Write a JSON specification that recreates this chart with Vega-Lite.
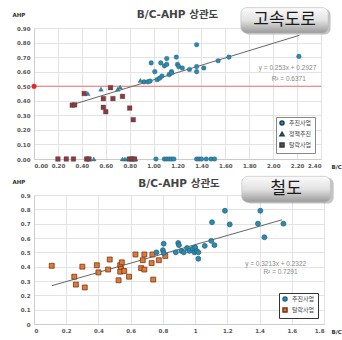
{
  "$schema": "https://vega.github.io/schema/vega-lite/v6.json",
  "background": "white",
  "padding": {"left": 11, "top": 6, "right": 0, "bottom": 2},
  "spacing": 5,
  "config": {
    "font": "DejaVu Sans",
    "view": {"stroke": "#e0e0e0"},
    "axis": {"labelFont": "DejaVu Sans", "labelFontSize": 5.5, "labelFontWeight": "bold", "labelColor": "#555", "ticks": false, "domainColor": "#cccccc", "gridColor": "#e3e3e3", "labelPadding": 4, "labelOverlap": false, "labelBound": false, "titleFont": "DejaVu Sans", "titleFontSize": 5.5, "titleFontWeight": "bold", "titleColor": "#333"},
    "title": {"font": "DejaVu Sans, Noto Sans CJK KR", "fontSize": 10.5, "fontWeight": "bold", "color": "#444", "offset": -13},
    "legend": {"labelFont": "Noto Sans CJK KR", "labelFontSize": 6, "labelColor": "#444", "symbolSize": 16, "rowPadding": 1, "padding": 3, "fillColor": "white", "orient": "bottom-right", "offset": 6, "title": null, "labelLimit": 60}
  },
  "datasets": {
    "hw": [
      {"bc": 0.98, "ahp": 0.66, "type": "추진사업"},
      {"bc": 1.01, "ahp": 0.60, "type": "추진사업"},
      {"bc": 1.06, "ahp": 0.66, "type": "추진사업"},
      {"bc": 1.09, "ahp": 0.64, "type": "추진사업"},
      {"bc": 1.11, "ahp": 0.69, "type": "추진사업"},
      {"bc": 1.11, "ahp": 0.65, "type": "추진사업"},
      {"bc": 1.03, "ahp": 0.545, "type": "추진사업"},
      {"bc": 1.05, "ahp": 0.555, "type": "추진사업"},
      {"bc": 1.07, "ahp": 0.57, "type": "추진사업"},
      {"bc": 1.13, "ahp": 0.58, "type": "추진사업"},
      {"bc": 1.15, "ahp": 0.60, "type": "추진사업"},
      {"bc": 1.15, "ahp": 0.59, "type": "추진사업"},
      {"bc": 1.19, "ahp": 0.70, "type": "추진사업"},
      {"bc": 1.20, "ahp": 0.65, "type": "추진사업"},
      {"bc": 1.21, "ahp": 0.635, "type": "추진사업"},
      {"bc": 1.24, "ahp": 0.625, "type": "추진사업"},
      {"bc": 1.30, "ahp": 0.615, "type": "추진사업"},
      {"bc": 1.36, "ahp": 0.785, "type": "추진사업"},
      {"bc": 1.36, "ahp": 0.635, "type": "추진사업"},
      {"bc": 1.36, "ahp": 0.60, "type": "추진사업"},
      {"bc": 1.42, "ahp": 0.625, "type": "추진사업"},
      {"bc": 1.54, "ahp": 0.675, "type": "추진사업"},
      {"bc": 1.63, "ahp": 0.70, "type": "추진사업"},
      {"bc": 2.215, "ahp": 0.705, "type": "추진사업"},
      {"bc": 0.92, "ahp": 0.53, "type": "추진사업"},
      {"bc": 0.95, "ahp": 0.53, "type": "추진사업"},
      {"bc": 0.97, "ahp": 0.535, "type": "추진사업"},
      {"bc": 1.02, "ahp": 0.0, "type": "추진사업"},
      {"bc": 1.09, "ahp": 0.0, "type": "추진사업"},
      {"bc": 1.11, "ahp": 0.0, "type": "추진사업"},
      {"bc": 1.13, "ahp": 0.0, "type": "추진사업"},
      {"bc": 1.15, "ahp": 0.0, "type": "추진사업"},
      {"bc": 1.17, "ahp": 0.0, "type": "추진사업"},
      {"bc": 1.36, "ahp": 0.0, "type": "추진사업"},
      {"bc": 1.38, "ahp": 0.0, "type": "추진사업"},
      {"bc": 1.40, "ahp": 0.0, "type": "추진사업"},
      {"bc": 1.44, "ahp": 0.0, "type": "추진사업"},
      {"bc": 1.48, "ahp": 0.0, "type": "추진사업"},
      {"bc": 1.51, "ahp": 0.0, "type": "추진사업"},
      {"bc": 0.56, "ahp": 0.48, "type": "정책추진"},
      {"bc": 0.70, "ahp": 0.48, "type": "정책추진"},
      {"bc": 0.72, "ahp": 0.495, "type": "정책추진"},
      {"bc": 0.45, "ahp": 0.45, "type": "정책추진"},
      {"bc": 0.89, "ahp": 0.54, "type": "정책추진"},
      {"bc": 0.50, "ahp": 0.0, "type": "정책추진"},
      {"bc": 0.74, "ahp": 0.0, "type": "정책추진"},
      {"bc": 0.76, "ahp": 0.0, "type": "정책추진"},
      {"bc": 0.78, "ahp": 0.0, "type": "정책추진"},
      {"bc": 0.85, "ahp": 0.0, "type": "정책추진"},
      {"bc": 0.32, "ahp": 0.37, "type": "탈락사업"},
      {"bc": 0.34, "ahp": 0.372, "type": "탈락사업"},
      {"bc": 0.42, "ahp": 0.45, "type": "탈락사업"},
      {"bc": 0.64, "ahp": 0.49, "type": "탈락사업"},
      {"bc": 0.58, "ahp": 0.415, "type": "탈락사업"},
      {"bc": 0.66, "ahp": 0.415, "type": "탈락사업"},
      {"bc": 0.74, "ahp": 0.43, "type": "탈락사업"},
      {"bc": 0.58, "ahp": 0.355, "type": "탈락사업"},
      {"bc": 0.60, "ahp": 0.325, "type": "탈락사업"},
      {"bc": 0.80, "ahp": 0.35, "type": "탈락사업"},
      {"bc": 0.83, "ahp": 0.27, "type": "탈락사업"},
      {"bc": 0.20, "ahp": 0.0, "type": "탈락사업"},
      {"bc": 0.27, "ahp": 0.0, "type": "탈락사업"},
      {"bc": 0.33, "ahp": 0.0, "type": "탈락사업"},
      {"bc": 0.44, "ahp": 0.0, "type": "탈락사업"},
      {"bc": 0.46, "ahp": 0.0, "type": "탈락사업"},
      {"bc": 0.80, "ahp": 0.0, "type": "탈락사업"},
      {"bc": 0.82, "ahp": 0.0, "type": "탈락사업"},
      {"bc": 0.84, "ahp": 0.0, "type": "탈락사업"}
    ],
    "rail": [
      {"bc": 0.11, "ahp": 0.406, "type": "탈락사업"},
      {"bc": 0.25, "ahp": 0.33, "type": "탈락사업"},
      {"bc": 0.26, "ahp": 0.275, "type": "탈락사업"},
      {"bc": 0.30, "ahp": 0.40, "type": "탈락사업"},
      {"bc": 0.315, "ahp": 0.255, "type": "탈락사업"},
      {"bc": 0.39, "ahp": 0.41, "type": "탈락사업"},
      {"bc": 0.40, "ahp": 0.36, "type": "탈락사업"},
      {"bc": 0.46, "ahp": 0.38, "type": "탈락사업"},
      {"bc": 0.47, "ahp": 0.45, "type": "탈락사업"},
      {"bc": 0.525, "ahp": 0.305, "type": "탈락사업"},
      {"bc": 0.535, "ahp": 0.41, "type": "탈락사업"},
      {"bc": 0.54, "ahp": 0.385, "type": "탈락사업"},
      {"bc": 0.535, "ahp": 0.365, "type": "탈락사업"},
      {"bc": 0.545, "ahp": 0.43, "type": "탈락사업"},
      {"bc": 0.56, "ahp": 0.37, "type": "탈락사업"},
      {"bc": 0.59, "ahp": 0.33, "type": "탈락사업"},
      {"bc": 0.63, "ahp": 0.485, "type": "탈락사업"},
      {"bc": 0.665, "ahp": 0.39, "type": "탈락사업"},
      {"bc": 0.675, "ahp": 0.445, "type": "탈락사업"},
      {"bc": 0.685, "ahp": 0.485, "type": "탈락사업"},
      {"bc": 0.685, "ahp": 0.38, "type": "탈락사업"},
      {"bc": 0.73, "ahp": 0.425, "type": "탈락사업"},
      {"bc": 0.735, "ahp": 0.485, "type": "탈락사업"},
      {"bc": 0.74, "ahp": 0.31, "type": "탈락사업"},
      {"bc": 0.775, "ahp": 0.445, "type": "탈락사업"},
      {"bc": 0.815, "ahp": 0.475, "type": "탈락사업"},
      {"bc": 0.76, "ahp": 0.50, "type": "추진사업"},
      {"bc": 0.80, "ahp": 0.515, "type": "추진사업"},
      {"bc": 0.805, "ahp": 0.56, "type": "추진사업"},
      {"bc": 0.805, "ahp": 0.495, "type": "추진사업"},
      {"bc": 0.88, "ahp": 0.50, "type": "추진사업"},
      {"bc": 0.895, "ahp": 0.565, "type": "추진사업"},
      {"bc": 0.90, "ahp": 0.55, "type": "추진사업"},
      {"bc": 0.915, "ahp": 0.51, "type": "추진사업"},
      {"bc": 0.93, "ahp": 0.50, "type": "추진사업"},
      {"bc": 0.95, "ahp": 0.53, "type": "추진사업"},
      {"bc": 0.965, "ahp": 0.51, "type": "추진사업"},
      {"bc": 0.985, "ahp": 0.525, "type": "추진사업"},
      {"bc": 0.995, "ahp": 0.50, "type": "추진사업"},
      {"bc": 1.00, "ahp": 0.535, "type": "추진사업"},
      {"bc": 1.01, "ahp": 0.51, "type": "추진사업"},
      {"bc": 1.02, "ahp": 0.455, "type": "추진사업"},
      {"bc": 1.02, "ahp": 0.50, "type": "추진사업"},
      {"bc": 1.06, "ahp": 0.545, "type": "추진사업"},
      {"bc": 1.10, "ahp": 0.58, "type": "추진사업"},
      {"bc": 1.105, "ahp": 0.71, "type": "추진사업"},
      {"bc": 1.12, "ahp": 0.55, "type": "추진사업"},
      {"bc": 1.185, "ahp": 0.79, "type": "추진사업"},
      {"bc": 1.215, "ahp": 0.695, "type": "추진사업"},
      {"bc": 1.39, "ahp": 0.70, "type": "추진사업"},
      {"bc": 1.405, "ahp": 0.79, "type": "추진사업"},
      {"bc": 1.43, "ahp": 0.605, "type": "추진사업"},
      {"bc": 1.548, "ahp": 0.70, "type": "추진사업"}
    ]
  },
  "vconcat": [
    {
      "width": 287,
      "height": 131,
      "title": {"text": "B/C-AHP 상관도", "anchor": "middle", "frame": "group"},
      "layer": [
        {
          "data": {"values": [{"ref": 0.5}]},
          "mark": {"type": "rule", "color": "#f07072", "strokeWidth": 1},
          "encoding": {"y": {"field": "ref", "type": "quantitative", "scale": {"domain": [0, 0.9], "nice": false},
              "axis": {"values": [0, 0.1, 0.2, 0.3, 0.4, 0.5, 0.6, 0.7, 0.8, 0.9], "tickCount": 30, "format": ".2f", "labelOverlap": false, "title": "AHP", "titleAngle": 0, "titleX": -22, "titleY": -11, "titleAlign": "left"}}}
        },
        {
          "data": {"values": [{"x1": 0.32, "y1": 0.373, "x2": 2.22, "y2": 0.85}]},
          "mark": {"type": "rule", "color": "#666", "strokeWidth": 1},
          "encoding": {
            "x": {"field": "x1", "type": "quantitative", "scale": {"domain": [0, 2.4], "nice": false},
              "axis": {"values": [0, 0.2, 0.4, 0.6, 0.8, 1.0, 1.2, 1.4, 1.6, 1.8, 2.0, 2.2, 2.4], "tickCount": 30, "format": ".2f", "labelOverlap": false, "title": "B/C", "titleAlign": "left", "titleX": 297, "titleY": 7, "titleBaseline": "middle"}},
            "y": {"field": "y1", "type": "quantitative", "scale": {"domain": [0, 0.9], "nice": false},
              "axis": {"values": [0, 0.1, 0.2, 0.3, 0.4, 0.5, 0.6, 0.7, 0.8, 0.9], "tickCount": 30, "format": ".2f", "labelOverlap": false, "title": "AHP", "titleAngle": 0, "titleX": -22, "titleY": -11, "titleAlign": "left"}},
            "x2": {"field": "x2"},
            "y2": {"field": "y2"}
          }
        },
        {
          "data": {"name": "hw"},
          "mark": {"type": "point", "filled": true, "opacity": 1, "size": 22, "stroke": "#1d3f4f", "strokeWidth": 0.4, "strokeOpacity": 0.7},
          "encoding": {
            "x": {"field": "bc", "type": "quantitative", "scale": {"domain": [0, 2.4], "nice": false},
              "axis": {"values": [0, 0.2, 0.4, 0.6, 0.8, 1.0, 1.2, 1.4, 1.6, 1.8, 2.0, 2.2, 2.4], "tickCount": 30, "format": ".2f", "labelOverlap": false, "title": "B/C", "titleAlign": "left", "titleX": 297, "titleY": 7, "titleBaseline": "middle"}},
            "y": {"field": "ahp", "type": "quantitative", "scale": {"domain": [0, 0.9], "nice": false},
              "axis": {"values": [0, 0.1, 0.2, 0.3, 0.4, 0.5, 0.6, 0.7, 0.8, 0.9], "tickCount": 30, "format": ".2f", "labelOverlap": false, "title": "AHP", "titleAngle": 0, "titleX": -22, "titleY": -11, "titleAlign": "left"}},
            "shape": {"field": "type", "type": "nominal", "scale": {"domain": ["추진사업", "정책추진", "탈락사업"], "range": ["circle", "triangle-up", "square"]}},
            "color": {"field": "type", "type": "nominal", "scale": {"domain": ["추진사업", "정책추진", "탈락사업"], "range": ["#2d89ad", "#2d89ad", "#8e3a3c"]},
              "legend": {"strokeColor": "#888"}}
          }
        },
        {
          "data": {"values": [{"bc": 0, "ahp": 0.5}]},
          "mark": {"type": "circle", "color": "#e8262b", "size": 26, "opacity": 1},
          "encoding": {
            "x": {"field": "bc", "type": "quantitative", "scale": {"domain": [0, 2.4], "nice": false},
              "axis": {"values": [0, 0.2, 0.4, 0.6, 0.8, 1.0, 1.2, 1.4, 1.6, 1.8, 2.0, 2.2, 2.4], "tickCount": 30, "format": ".2f", "labelOverlap": false, "title": "B/C", "titleAlign": "left", "titleX": 297, "titleY": 7, "titleBaseline": "middle"}},
            "y": {"field": "ahp", "type": "quantitative", "scale": {"domain": [0, 0.9], "nice": false},
              "axis": {"values": [0, 0.1, 0.2, 0.3, 0.4, 0.5, 0.6, 0.7, 0.8, 0.9], "tickCount": 30, "format": ".2f", "labelOverlap": false, "title": "AHP", "titleAngle": 0, "titleX": -22, "titleY": -11, "titleAlign": "left"}}
          }
        },
        {
          "data": {"values": [{"t": "y = 0.253x + 0.2927", "r": "R² = 0.6371"}]},
          "layer": [
            {"mark": {"type": "text", "fontSize": 6.5, "color": "#888", "font": "Liberation Sans"},
             "encoding": {"text": {"field": "t"}, "x": {"datum": 2.12}, "y": {"datum": 0.625}}},
            {"mark": {"type": "text", "fontSize": 6.5, "color": "#888", "font": "Liberation Sans"},
             "encoding": {"text": {"field": "r"}, "x": {"datum": 2.13}, "y": {"datum": 0.55}}}
          ]
        },
        {
          "data": {"values": [{"label": "고속도로"}]},
          "layer": [
            {"mark": {"type": "rect", "cornerRadius": 6, "fill": "#555", "opacity": 0.35},
             "encoding": {"x": {"datum": 1.75}, "x2": {"datum": 2.48}, "y": {"datum": 1.03}, "y2": {"datum": 0.855}}},
            {"mark": {"type": "rect", "cornerRadius": 6, "stroke": "#bbb", "strokeWidth": 0.6,
              "fill": {"gradient": "linear", "x1": 0, "y1": 0, "x2": 0, "y2": 1, "stops": [{"offset": 0, "color": "#fbfbfb"}, {"offset": 0.5, "color": "#e2e2e2"}, {"offset": 1, "color": "#9a9a9a"}]}},
             "encoding": {"x": {"datum": 1.73}, "x2": {"datum": 2.46}, "y": {"datum": 1.04}, "y2": {"datum": 0.865}}},
            {"mark": {"type": "text", "fontSize": 17, "color": "#1a1a1a", "font": "Noto Sans CJK KR"},
             "encoding": {"text": {"field": "label"}, "x": {"datum": 2.095}, "y": {"datum": 0.953}}}
          ]
        }
      ]
    },
    {
      "width": 290,
      "height": 129,
      "title": {"text": "B/C-AHP 상관도", "anchor": "middle", "frame": "group"},
      "layer": [
        {
          "data": {"values": [{"x1": 0.11, "y1": 0.267, "x2": 1.54, "y2": 0.727}]},
          "mark": {"type": "rule", "color": "#666", "strokeWidth": 1},
          "encoding": {
            "x": {"field": "x1", "type": "quantitative", "scale": {"domain": [0, 1.8], "nice": false},
              "axis": {"values": [0, 0.2, 0.4, 0.6, 0.8, 1.0, 1.2, 1.4, 1.6, 1.8], "tickCount": 30, "format": "~g", "labelOverlap": false, "title": "B/C", "titleAlign": "left", "titleX": 297, "titleY": 7, "titleBaseline": "middle"}},
            "y": {"field": "y1", "type": "quantitative", "scale": {"domain": [0, 0.9], "nice": false},
              "axis": {"values": [0, 0.1, 0.2, 0.3, 0.4, 0.5, 0.6, 0.7, 0.8, 0.9], "tickCount": 30, "format": "~g", "labelOverlap": false, "title": "AHP", "titleAngle": 0, "titleX": -22, "titleY": -11, "titleAlign": "left"}},
            "x2": {"field": "x2"},
            "y2": {"field": "y2"}
          }
        },
        {
          "data": {"name": "rail"},
          "mark": {"type": "point", "filled": true, "opacity": 1, "size": 24, "strokeWidth": 0.8},
          "encoding": {
            "x": {"field": "bc", "type": "quantitative", "scale": {"domain": [0, 1.8], "nice": false},
              "axis": {"values": [0, 0.2, 0.4, 0.6, 0.8, 1.0, 1.2, 1.4, 1.6, 1.8], "tickCount": 30, "format": "~g", "labelOverlap": false, "title": "B/C", "titleAlign": "left", "titleX": 297, "titleY": 7, "titleBaseline": "middle"}},
            "y": {"field": "ahp", "type": "quantitative", "scale": {"domain": [0, 0.9], "nice": false},
              "axis": {"values": [0, 0.1, 0.2, 0.3, 0.4, 0.5, 0.6, 0.7, 0.8, 0.9], "tickCount": 30, "format": "~g", "labelOverlap": false, "title": "AHP", "titleAngle": 0, "titleX": -22, "titleY": -11, "titleAlign": "left"}},
            "shape": {"field": "type", "type": "nominal", "scale": {"domain": ["추진사업", "탈락사업"], "range": ["circle", "square"]}},
            "color": {"field": "type", "type": "nominal", "scale": {"domain": ["추진사업", "탈락사업"], "range": ["#2d89ad", "#de7a3c"]},
              "legend": {"strokeColor": "#333"}},
            "stroke": {"field": "type", "type": "nominal", "scale": {"domain": ["추진사업", "탈락사업"], "range": ["#1f6580", "#7a3510"]}, "legend": null}
          }
        },
        {
          "data": {"values": [{"t": "y = 0.3213x + 0.2322", "r": "R² = 0.7291"}]},
          "layer": [
            {"mark": {"type": "text", "fontSize": 6.5, "color": "#888", "font": "Liberation Sans"},
             "encoding": {"text": {"field": "t"}, "x": {"datum": 1.5}, "y": {"datum": 0.42}}},
            {"mark": {"type": "text", "fontSize": 6.5, "color": "#888", "font": "Liberation Sans"},
             "encoding": {"text": {"field": "r"}, "x": {"datum": 1.53}, "y": {"datum": 0.365}}}
          ]
        },
        {
          "data": {"values": [{"label": "철도"}]},
          "layer": [
            {"mark": {"type": "rect", "cornerRadius": 6, "fill": "#555", "opacity": 0.35},
             "encoding": {"x": {"datum": 1.31}, "x2": {"datum": 1.86}, "y": {"datum": 1.02}, "y2": {"datum": 0.84}}},
            {"mark": {"type": "rect", "cornerRadius": 6, "stroke": "#bbb", "strokeWidth": 0.6,
              "fill": {"gradient": "linear", "x1": 0, "y1": 0, "x2": 0, "y2": 1, "stops": [{"offset": 0, "color": "#fbfbfb"}, {"offset": 0.5, "color": "#e2e2e2"}, {"offset": 1, "color": "#9a9a9a"}]}},
             "encoding": {"x": {"datum": 1.29}, "x2": {"datum": 1.84}, "y": {"datum": 1.03}, "y2": {"datum": 0.85}}},
            {"mark": {"type": "text", "fontSize": 17, "color": "#1a1a1a", "font": "Noto Sans CJK KR"},
             "encoding": {"text": {"field": "label"}, "x": {"datum": 1.565}, "y": {"datum": 0.94}}}
          ]
        }
      ]
    }
  ],
  "resolve": {"scale": {"color": "independent", "shape": "independent", "stroke": "independent"}, "legend": {"color": "independent", "shape": "independent"}}
}
